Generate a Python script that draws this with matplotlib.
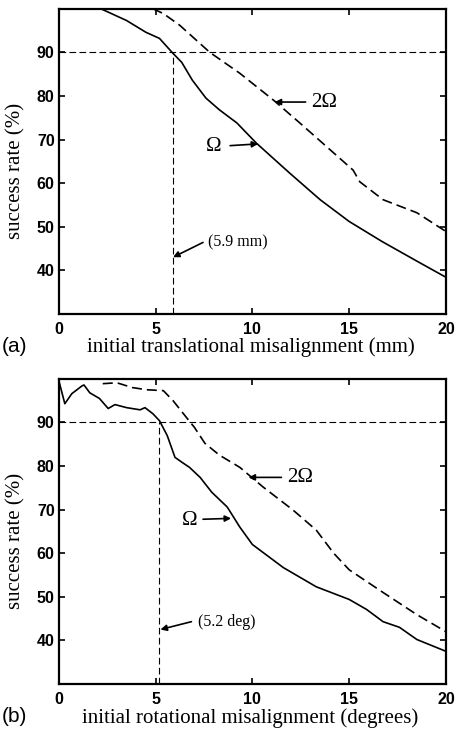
import matplotlib
matplotlib.use("Agg")
import matplotlib.pyplot as plt

# ---- data (panel a: translational) ----
a_x_single = [2.27, 3.5, 4.5, 5.2, 5.85, 6.35, 6.9, 7.6, 8.3, 9.2, 10.2, 11.9, 13.5, 15.0, 16.7, 18.5, 20.0]
a_y_single = [99.8, 97.3, 94.6, 93.2, 90.0, 87.7, 83.6, 79.5, 76.8, 73.8, 69.2, 62.4, 56.2, 51.2, 46.6, 42.1, 38.4]
a_x_double = [4.86, 5.4, 6.25, 7.8, 9.35, 11.1, 12.45, 13.85, 15.2, 15.55, 16.75, 18.5, 20.0]
a_y_double = [100.0, 98.9, 96.2, 90.0, 85.2, 79.0, 73.8, 68.3, 63.0, 60.3, 56.2, 53.2, 48.9]
a_thresh = 5.9

# ---- data (panel b: rotational) ----
b_x_single = [0.0, 0.31, 0.67, 1.2, 1.3, 1.6, 2.1, 2.55, 2.9, 3.5, 4.2, 4.45, 4.86, 5.2, 5.6, 6.0,
              6.35, 6.75, 7.3, 7.9, 8.7, 9.35, 10.0, 11.6, 13.3, 15.0, 15.9, 16.75, 17.6, 18.5, 20.0]
b_y_single = [99.6, 94.3, 96.6, 98.4, 98.6, 96.8, 95.5, 93.2, 94.1, 93.4, 92.9, 93.4, 92.0, 90.4, 87.0, 82.0,
              80.9, 79.7, 77.4, 74.0, 70.6, 66.0, 62.0, 56.7, 52.3, 49.4, 47.1, 44.3, 43.0, 40.2, 37.5]
b_x_double = [2.27, 3.0, 3.8, 4.55, 5.4, 5.9, 6.6, 7.0, 7.55, 8.3, 9.35, 10.55, 12.1, 13.3, 14.2, 15.0, 16.75, 18.5, 20.0]
b_y_double = [98.9, 99.1, 98.0, 97.5, 97.3, 95.0, 91.1, 88.9, 85.2, 82.5, 79.7, 75.2, 69.9, 65.3, 60.0, 56.2, 51.0, 45.9, 42.0]
b_thresh = 5.2

xticks = [0, 5, 10, 15, 20]
yticks = [40, 50, 60, 70, 80, 90]
xticklabels = ["0", "5", "10", "15", "20"]
yticklabels = ["40", "50", "60", "70", "80", "90"]

fig = plt.figure(figsize=(4.56, 7.30), dpi=100)
axa = fig.add_axes([0.129, 0.570, 0.849, 0.418])
axb = fig.add_axes([0.129, 0.063, 0.849, 0.418])

serif = "Liberation Serif"
sans = "Liberation Sans"

def style(ax, xlabel, tag):
    ax.set_xlim(0, 20)
    ax.set_ylim(30, 100)
    ax.set_xticks(xticks)
    ax.set_yticks(yticks)
    ax.set_xticklabels(xticklabels, family=sans, fontweight="bold", fontsize=11.5)
    ax.set_yticklabels(yticklabels, family=sans, fontweight="bold", fontsize=11.5)
    ax.tick_params(direction="in", top=True, right=True, length=4, width=1.2)
    ax.tick_params(axis="x", pad=6)
    ax.tick_params(axis="y", pad=3)
    for s in ax.spines.values():
        s.set_linewidth(1.6)
    ax.set_xlabel(xlabel, family=serif, fontsize=15)
    ax.xaxis.set_label_coords(0.495, -0.078)
    ax.set_ylabel("success rate (%)", family=serif, fontsize=15)
    ax.yaxis.set_label_coords(-0.085, 0.47)
    ax.text(-0.147, -0.108, tag, transform=ax.transAxes, family=sans, fontsize=15,
            va="center", ha="left")

dash = (0, (6, 3))
thin_dash = (0, (6, 3))
arrow = dict(arrowstyle="-|>", color="black", lw=1.2, mutation_scale=9, shrinkA=0, shrinkB=0)

def arr(ax, start, end):
    ax.annotate("", xy=end, xytext=start, arrowprops=arrow)

# panel a
axa.plot(a_x_single, a_y_single, color="black", lw=1.2)
axa.plot(a_x_double, a_y_double, color="black", lw=1.2, linestyle=dash)
axa.plot([0, 20], [90, 90], color="black", lw=0.8, linestyle=thin_dash)
axa.plot([a_thresh, a_thresh], [30, 90], color="black", lw=0.8, linestyle=thin_dash)
style(axa, "initial translational misalignment (mm)", "(a)")
axa.text(13.05, 78.6, "2Ω", family=serif, fontsize=15, va="center", ha="left")
arr(axa, (12.75, 78.6), (11.15, 78.6))
axa.text(7.6, 68.3, "Ω", family=serif, fontsize=15, va="center", ha="left")
arr(axa, (8.85, 68.6), (10.3, 69.0))
axa.text(7.7, 46.4, "(5.9 mm)", family=serif, fontsize=11.5, va="center", ha="left")
arr(axa, (7.45, 46.4), (5.9, 43.0))

# panel b
axb.plot(b_x_single, b_y_single, color="black", lw=1.2)
axb.plot(b_x_double, b_y_double, color="black", lw=1.2, linestyle=dash)
axb.plot([0, 20], [90, 90], color="black", lw=0.8, linestyle=thin_dash)
axb.plot([b_thresh, b_thresh], [30, 90], color="black", lw=0.8, linestyle=thin_dash)
style(axb, "initial rotational misalignment (degrees)", "(b)")
axb.text(11.8, 77.4, "2Ω", family=serif, fontsize=15, va="center", ha="left")
arr(axb, (11.5, 77.4), (9.8, 77.4))
axb.text(6.35, 67.6, "Ω", family=serif, fontsize=15, va="center", ha="left")
arr(axb, (7.45, 67.8), (8.9, 68.0))
axb.text(7.2, 44.3, "(5.2 deg)", family=serif, fontsize=11.5, va="center", ha="left")
arr(axb, (6.85, 44.3), (5.25, 42.5))

fig.savefig("out.png", dpi=100)
